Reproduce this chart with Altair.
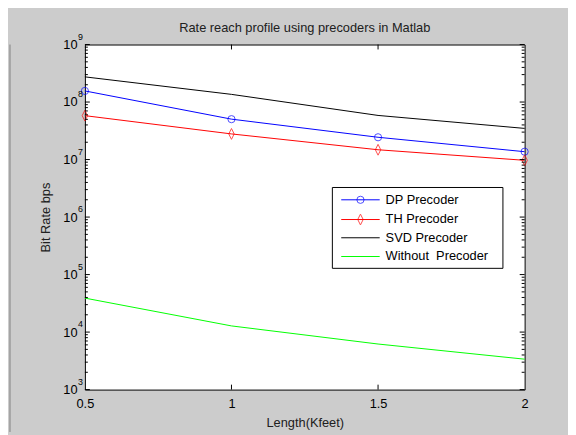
import altair as alt
import pandas as pd

# ---- data ----
length = [0.5, 1.0, 1.5, 2.0]
dp_rate = [1.56e8, 5.04e7, 2.44e7, 1.37e7]
th_rate = [5.8e7, 2.79e7, 1.48e7, 9.7e6]
svd_rate = [2.74e8, 1.36e8, 5.85e7, 3.48e7]
without_rate = [3.9e4, 1.28e4, 6.2e3, 3.38e3]

series_keys = ["DP", "TH", "SVD", "Without"]
legend_labels = ["DP Precoder", "TH Precoder", "SVD Precoder", "\u00a0Without\u00a0\u00a0Precoder"]
series_colors = ["#0000ff", "#ff0000", "#000000", "#00ff00"]

x_ticks = [0.5, 1.0, 1.5, 2.0]
y_decades = [1e3, 1e4, 1e5, 1e6, 1e7, 1e8, 1e9]
y_exponents = ["3", "4", "5", "6", "7", "8", "9"]
minor_mult = [2, 3, 4, 5, 6, 7, 8, 9]

FONT = "Liberation Sans"
W, H = 446, 350

rows = []
for key, vals in zip(series_keys, [dp_rate, th_rate, svd_rate, without_rate]):
    for l, v in zip(length, vals):
        rows.append({"series": key, "length": l, "rate": v})
df = pd.DataFrame(rows)

minor_vals = [m * d for d in y_decades[:-1] for m in minor_mult]
minor_df = pd.DataFrame({"rate": minor_vals})
major_df = pd.DataFrame({"rate": y_decades, "exp": y_exponents})
xt_df = pd.DataFrame({"length": x_ticks[1:-1]})
one = pd.DataFrame({"a": [0]})

xscale = alt.Scale(domain=[0.5, 2.0], nice=False, zero=False)
yscale = alt.Scale(type="log", domain=[1e3, 1e9], nice=False)

lines = alt.Chart(df).mark_line(strokeWidth=1, clip=False).encode(
    x=alt.X("length:Q", scale=xscale,
            axis=alt.Axis(values=x_ticks, format="~g", title="Length(Kfeet)",
                          labelPadding=8, titlePadding=6, labelFlush=False)),
    y=alt.Y("rate:Q", scale=yscale,
            axis=alt.Axis(values=y_decades, title="Bit Rate bps", labelExpr="'10'",
                          labelPadding=8, titlePadding=10, labelFlush=False)),
    color=alt.Color("series:N", scale=alt.Scale(domain=series_keys, range=series_colors), legend=None),
)

# exponents of the decade labels
exps = alt.Chart(major_df).mark_text(
    align="left", baseline="alphabetic", font=FONT, fontSize=9, color="black", dy=-5
).encode(y=alt.Y("rate:Q", scale=yscale), x=alt.value(-7), text="exp:N")

dp_pts = alt.Chart(df[df.series == "DP"]).mark_point(
    shape="circle", size=53, filled=False, strokeWidth=1, color="#0000ff", clip=False
).encode(x=alt.X("length:Q", scale=xscale), y=alt.Y("rate:Q", scale=yscale))

diamond = "M0,-1L0.5,0L0,1L-0.5,0Z"
th_pts = alt.Chart(df[df.series == "TH"]).mark_point(
    shape=diamond, size=121, filled=False, strokeWidth=1, color="#ff0000", clip=False
).encode(x=alt.X("length:Q", scale=xscale), y=alt.Y("rate:Q", scale=yscale))

# inward tick marks
tick_layers = []
for data, ln in [(major_df, 5), (minor_df, 3)]:
    tick_layers.append(alt.Chart(data).mark_rule(color="black", strokeWidth=1).encode(
        y=alt.Y("rate:Q", scale=yscale), x=alt.value(0), x2=alt.value(ln)))
    tick_layers.append(alt.Chart(data).mark_rule(color="black", strokeWidth=1).encode(
        y=alt.Y("rate:Q", scale=yscale), x=alt.value(W), x2=alt.value(W - ln)))
tick_layers.append(alt.Chart(xt_df).mark_rule(color="black", strokeWidth=1).encode(
    x=alt.X("length:Q", scale=xscale), y=alt.value(H), y2=alt.value(H - 5)))
tick_layers.append(alt.Chart(xt_df).mark_rule(color="black", strokeWidth=1).encode(
    x=alt.X("length:Q", scale=xscale), y=alt.value(0), y2=alt.value(5)))

# legend box
legend_layers = [alt.Chart(one).mark_rect(fill="white", stroke="black", strokeWidth=1).encode(
    x=alt.value(251), x2=alt.value(424), y=alt.value(145), y2=alt.value(227))]
row_y = [157.5, 177.5, 196, 215]
for lab, col, ry, key in zip(legend_labels, series_colors, row_y, series_keys):
    legend_layers.append(alt.Chart(one).mark_rule(color=col, strokeWidth=1).encode(
        x=alt.value(260), x2=alt.value(299), y=alt.value(ry)))
    legend_layers.append(alt.Chart(one).mark_text(
        text=lab, align="left", baseline="middle", font=FONT, fontSize=13, color="black").encode(
        x=alt.value(305), y=alt.value(ry)))
    if key == "DP":
        legend_layers.append(alt.Chart(one).mark_point(
            shape="circle", size=53, filled=False, strokeWidth=1, color=col).encode(
            x=alt.value(279.5), y=alt.value(ry)))
    if key == "TH":
        legend_layers.append(alt.Chart(one).mark_point(
            shape=diamond, size=121, filled=False, strokeWidth=1, color=col).encode(
            x=alt.value(279.5), y=alt.value(ry)))

frame_line = alt.Chart(one).mark_rule(color="#808080", strokeWidth=1).encode(
    x=alt.value(-76), y=alt.value(0), y2=alt.value(393))

chart = alt.layer(
    frame_line, lines, dp_pts, th_pts, exps, *tick_layers, *legend_layers
).properties(
    width=W, height=H,
    title=alt.TitleParams("Rate reach profile using precoders in Matlab", font=FONT,
                          fontSize=13, fontWeight="normal", color="#202020", offset=0, dy=2,
                          frame="group", anchor="middle"),
    autosize=alt.AutoSizeParams(type="none"),
    padding={"left": 78, "top": 34, "right": 44, "bottom": 43},
).configure(
    background="#cccccc",
).configure_view(
    stroke="black", strokeWidth=1, fill="white",
).configure_axis(
    domain=False, ticks=False, grid=False,
    labelFont=FONT, labelFontSize=13, labelColor="black",
    titleFont=FONT, titleFontSize=13, titleFontWeight="normal", titleColor="#202020",
)

chart.save("out.html", embed_options={"renderer": "svg", "actions": False})
